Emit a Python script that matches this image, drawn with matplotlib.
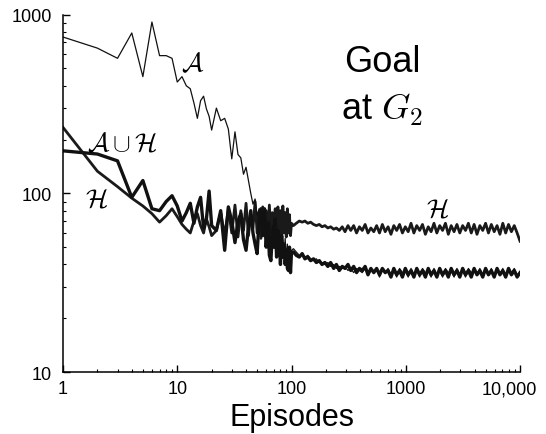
import numpy as np
import matplotlib
matplotlib.use('Agg')
import matplotlib.pyplot as plt
from matplotlib.ticker import NullFormatter, LogLocator
from matplotlib.transforms import ScaledTranslation

plt.rcParams['font.family'] = ['Liberation Sans', 'DejaVu Sans']
plt.rcParams['mathtext.fontset'] = 'cm'

# episode grid: every episode early, every 2nd up to 100, then averaged log-spaced bins
ep_head = np.arange(1, 21)
ep_mid = np.arange(22, 101, 2)
ep_tail = np.round(np.geomspace(104, 10000, 80))

a_head = [750, 650, 570, 790, 450, 910, 590, 590, 570, 420,
          450, 400, 385, 320, 263, 330, 350, 297, 270, 226]
a_mid = [300, 255, 263, 229, 156, 221, 165, 158, 128, 140,
         118, 100, 87, 93, 75, 82, 65, 78, 60, 72,
         55, 70, 52, 66, 50, 62, 48, 60, 47, 58,
         46, 55, 44, 56, 43, 52, 42, 50, 41, 48]
a_tail = [49, 47, 45, 45, 44, 45, 43, 42, 43, 41,
          41, 40, 41, 39, 40, 38, 39, 38, 39, 37,
          38, 36, 38, 37, 36, 38, 35, 37, 36, 38,
          34, 37, 36, 38, 35, 37, 34, 38, 36, 37,
          34, 38, 35, 37, 34, 38, 36, 37, 34, 38,
          35, 37, 34, 38, 36, 37, 34, 38, 35, 37,
          34, 38, 36, 37, 35, 38, 34, 37, 35, 38,
          34, 37, 35, 38, 34, 37, 36, 38, 35, 36]

h_head = [234, 133, 109, 94, 85, 77, 69, 75, 82, 74,
          67, 63, 60, 70, 77, 66, 60, 72, 65, 58]
h_mid = [62, 78, 58, 82, 60, 86, 57, 80, 62, 88,
         58, 76, 64, 90, 60, 78, 56, 84, 62, 80,
         58, 86, 60, 78, 55, 82, 60, 84, 58, 80,
         56, 85, 60, 78, 57, 82, 60, 76, 58, 68]
h_tail = [66, 68, 70, 69, 70, 68, 69, 67, 66, 67,
          65, 66, 64, 65, 63, 64, 62, 65, 61, 66,
          62, 66, 60, 65, 62, 67, 60, 64, 61, 66,
          60, 67, 61, 65, 59, 66, 62, 67, 60, 65,
          61, 68, 60, 66, 62, 67, 59, 65, 61, 68,
          60, 66, 62, 68, 59, 66, 61, 67, 60, 66,
          62, 68, 60, 67, 59, 66, 62, 68, 60, 67,
          61, 66, 59, 68, 60, 67, 61, 66, 60, 54]

ah_head = [173, 166, 152, 95, 118, 82, 80, 90, 97, 85,
           70, 78, 88, 68, 84, 95, 64, 72, 103, 66]
ah_mid = [62, 80, 48, 84, 70, 53, 70, 77, 55, 48,
          65, 80, 60, 52, 46, 70, 82, 58, 82, 50,
          68, 45, 42, 60, 50, 72, 44, 62, 56, 40,
          58, 44, 52, 40, 48, 38, 37, 50, 36, 47]
ah_tail = [47, 45, 44, 46, 43, 44, 42, 43, 41, 42,
           40, 41, 39, 41, 38, 40, 37, 39, 38, 40,
           37, 39, 36, 38, 37, 39, 35, 38, 36, 38,
           35, 38, 36, 37, 34, 38, 35, 37, 34, 38,
           35, 37, 34, 38, 35, 37, 34, 38, 35, 37,
           34, 38, 35, 37, 34, 38, 35, 37, 34, 38,
           35, 37, 34, 38, 35, 37, 34, 38, 35, 37,
           34, 38, 35, 37, 34, 38, 35, 37, 34, 36]

xticks = [1, 10, 100, 1000, 10000]
xticklabels = ['1', '10', '100', '1000', '10,000']
yticks = [10, 100, 1000]
yticklabels = ['10', '100', '1000']

ep = np.concatenate([ep_head, ep_mid, ep_tail])
A = np.concatenate([a_head, a_mid, a_tail])
H = np.concatenate([h_head, h_mid, h_tail])
AH = np.concatenate([ah_head, ah_mid, ah_tail])

fig = plt.figure(figsize=(5.46, 4.35), dpi=100)
ax = fig.add_axes([0.1154, 0.1425, 0.837, 0.8214])

ax.plot(ep, H, color='#1a1a1a', lw=2.0)
ax.plot(ep, AH, color='#111111', lw=2.4)
ax.plot(ep, A, color='#111111', lw=0.9)

ax.set_xscale('log')
ax.set_yscale('log')
ax.set_xlim(1, 10000)
ax.set_ylim(10, 1000)

ax.spines['top'].set_visible(False)
ax.spines['right'].set_visible(False)
ax.spines['left'].set_linewidth(1.1)
ax.spines['bottom'].set_linewidth(1.1)

ax.set_xticks(xticks)
ax.set_xticklabels(xticklabels)
ax.set_yticks(yticks)
ax.set_yticklabels(yticklabels)
ax.xaxis.set_minor_locator(LogLocator(base=10, subs=range(2, 10)))
ax.yaxis.set_minor_locator(LogLocator(base=10, subs=range(2, 10)))
ax.xaxis.set_minor_formatter(NullFormatter())
ax.yaxis.set_minor_formatter(NullFormatter())
ax.tick_params(which='major', direction='in', length=5, width=1, labelsize=13)
ax.tick_params(which='minor', direction='in', length=2.5, width=0.8)
ax.tick_params(axis='y', pad=8)
ax.tick_params(axis='x', pad=6)

# keep "10,000" inside the figure edge
last = ax.get_xticklabels()[-1]
last.set_transform(last.get_transform() + ScaledTranslation(-8 / 72, 0, fig.dpi_scale_trans))

ax.set_xlabel('Episodes', fontsize=22, labelpad=3)

ax.text(13.5, 540, r'$\mathcal{A}$', fontsize=19, ha='center', va='center')
ax.text(3.3, 191, r'$\mathcal{A}\cup\mathcal{H}$', fontsize=19, ha='center', va='center')
ax.text(1.95, 94, r'$\mathcal{H}$', fontsize=19, ha='center', va='center')
ax.text(1900, 82, r'$\mathcal{H}$', fontsize=19, ha='center', va='center')

ax.text(0.698, 0.87, 'Goal', transform=ax.transAxes, fontsize=26, ha='center', va='center')
ax.text(0.698, 0.736, r'at $G_2$', transform=ax.transAxes, fontsize=26, ha='center', va='center')

fig.savefig('out.png', dpi=100)
